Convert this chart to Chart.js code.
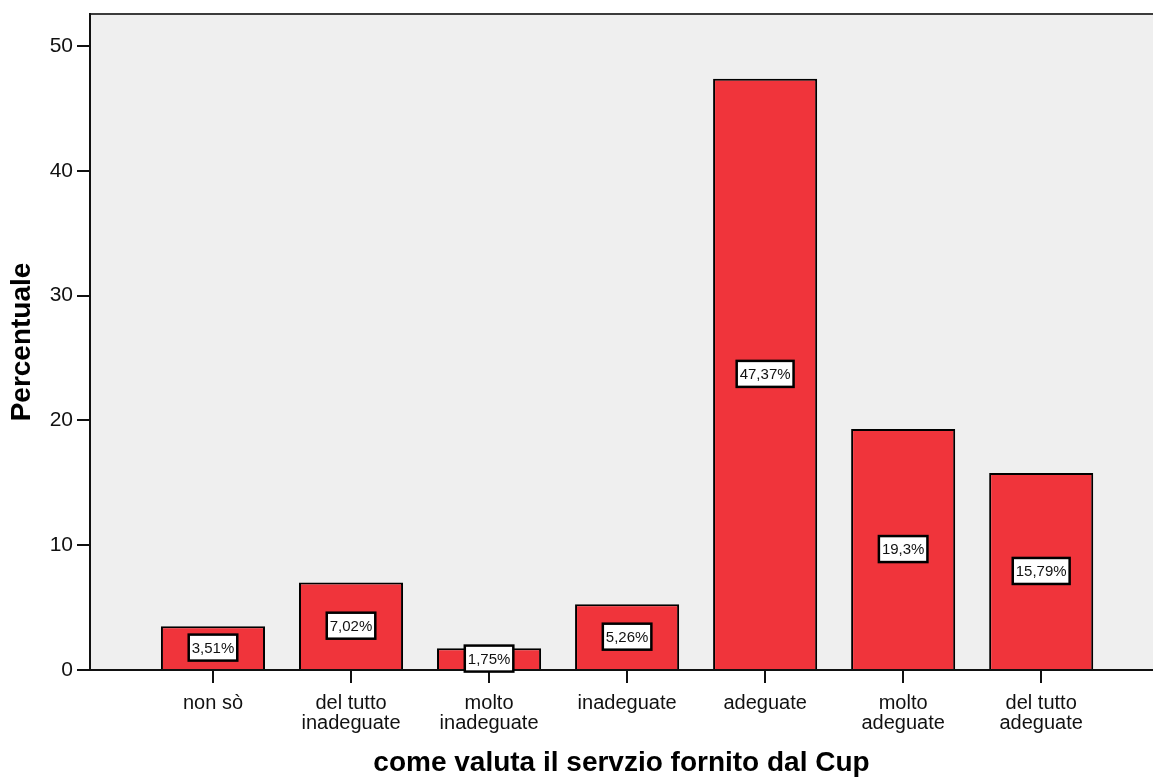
<!DOCTYPE html>
<html>
<head>
<meta charset="utf-8">
<script src="https://cdn.jsdelivr.net/npm/chart.js@4/dist/chart.umd.min.js"></script>
<style>
  html, body { margin: 0; padding: 0; background: #fff; }
  #wrap { width: 1153px; height: 778px; }
</style>
</head>
<body>
<div id="wrap"><canvas id="myChart" width="1153" height="778"></canvas></div>
<script>
var categories = [['non sò'], ['del tutto', 'inadeguate'], ['molto', 'inadeguate'], ['inadeguate'],
  ['adeguate'], ['molto', 'adeguate'], ['del tutto', 'adeguate']];
var percentuali = [3.51, 7.02, 1.75, 5.26, 47.37, 19.3, 15.79];
var valueLabels = ['3,51%', '7,02%', '1,75%', '5,26%', '47,37%', '19,3%', '15,79%'];
var yTicks = [0, 10, 20, 30, 40, 50];

var FONT = 'Arial, "Liberation Sans", sans-serif';

// grey plot background + dark top border
var plotBg = {
  id: 'plotBg',
  beforeDraw: function (chart) {
    var a = chart.chartArea, ctx = chart.ctx;
    ctx.save();
    ctx.fillStyle = '#efefef';
    ctx.fillRect(a.left, a.top, a.right - a.left, a.bottom - a.top);
    ctx.strokeStyle = '#3c3c3c';
    ctx.lineWidth = 2;
    ctx.beginPath();
    ctx.moveTo(a.left, a.top);
    ctx.lineTo(a.right, a.top);
    ctx.stroke();
    ctx.restore();
  }
};

// white boxed value labels in the middle of each bar
var boxLabels = {
  id: 'boxLabels',
  afterDatasetsDraw: function (chart) {
    var ctx = chart.ctx;
    var meta = chart.getDatasetMeta(0);
    ctx.save();
    ctx.font = '15px ' + FONT;
    ctx.textAlign = 'center';
    ctx.textBaseline = 'middle';
    meta.data.forEach(function (bar, i) {
      var txt = valueLabels[i];
      var cy = (bar.y + bar.base) / 2;
      var w = ctx.measureText(txt).width + 6;
      var h = 26;
      ctx.fillStyle = '#ffffff';
      ctx.fillRect(bar.x - w / 2, cy - h / 2, w, h);
      ctx.strokeStyle = '#000';
      ctx.lineWidth = 2.5;
      ctx.strokeRect(bar.x - w / 2, cy - h / 2, w, h);
      ctx.fillStyle = '#111';
      ctx.fillText(txt, bar.x, cy + 1);
    });
    ctx.restore();
  }
};

new Chart('myChart', {
  type: 'bar',
  data: {
    datasets: [{
      data: percentuali.map(function (v, i) { return { x: i, y: v }; }),
      backgroundColor: '#f0343b',
      borderColor: '#000',
      borderWidth: 2,
      borderSkipped: 'bottom',
      barPercentage: 0.754,
      categoryPercentage: 1
    }]
  },
  options: {
    responsive: false,
    animation: false,
    layout: { padding: { top: 14, right: 0, left: 0, bottom: 0 } },
    plugins: { legend: { display: false }, tooltip: { enabled: false } },
    scales: {
      x: {
        type: 'linear',
        offset: false,
        min: -0.891,
        max: 6.81,
        afterBuildTicks: function (s) {
          s.ticks = categories.map(function (c, i) { return { value: i }; });
        },
        afterFit: function (s) { s.height = 108; s.paddingLeft = 0; s.paddingRight = 0; },
        ticks: {
          autoSkip: false,
          maxRotation: 0,
          color: '#111',
          font: { family: FONT, size: 20, lineHeight: 1.0 },
          padding: 10,
          callback: function (v) { return categories[v]; }
        },
        grid: { offset: false, drawOnChartArea: false, drawTicks: true, tickLength: 13, color: '#111', lineWidth: 2 },
        border: { display: true, color: '#111', width: 2 },
        title: {
          display: true,
          text: 'come valuta il servzio fornito dal Cup',
          color: '#000',
          font: { family: FONT, size: 28, weight: 'bold', lineHeight: 1.0 },
          padding: { top: 0, bottom: 1 }
        }
      },
      y: {
        min: 0,
        max: 52.56,
        afterBuildTicks: function (s) {
          s.ticks = yTicks.map(function (v) { return { value: v }; });
        },
        afterFit: function (s) { s.width = 90; s.paddingTop = 0; s.paddingBottom = 0; },
        ticks: {
          color: '#111',
          font: { family: FONT, size: 21 },
          padding: 4
        },
        grid: { drawOnChartArea: false, drawTicks: true, tickLength: 13, color: '#111', lineWidth: 2 },
        border: { display: true, color: '#111', width: 2 },
        title: {
          display: true,
          text: 'Percentuale',
          color: '#000',
          font: { family: FONT, size: 28, weight: 'bold', lineHeight: 1.0 },
          padding: { top: 8, bottom: 0 }
        }
      }
    }
  },
  plugins: [plotBg, boxLabels]
});
</script>
</body>
</html>
